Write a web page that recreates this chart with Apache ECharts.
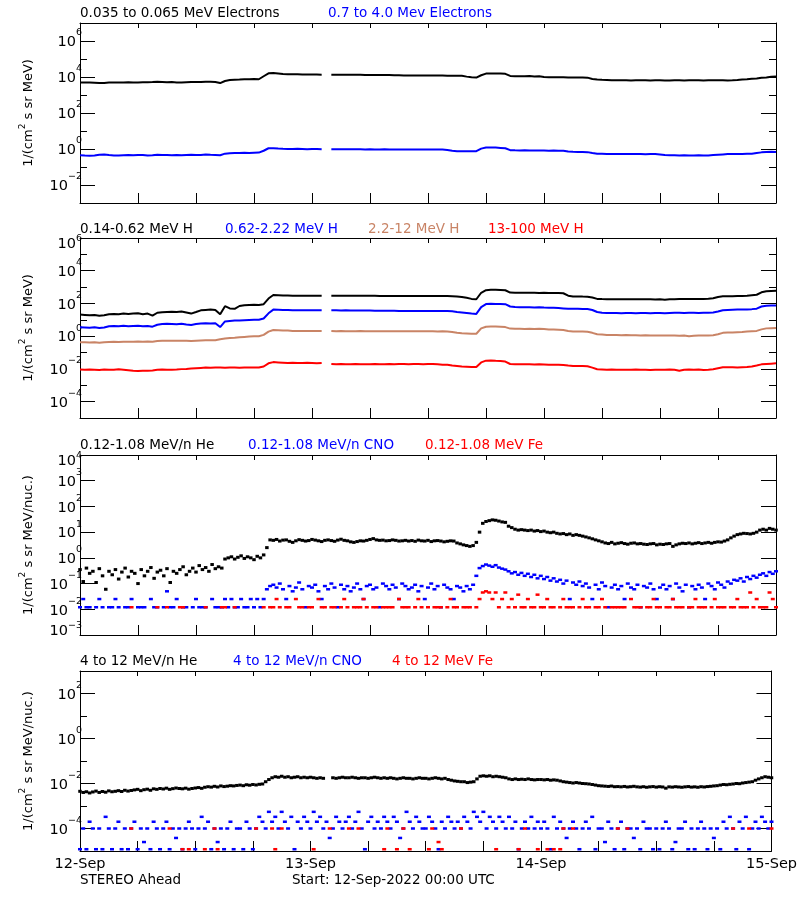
<!DOCTYPE html>
<html><head><meta charset="utf-8">
<script src="https://cdn.jsdelivr.net/npm/echarts@6/dist/echarts.min.js"></script>
<style>html,body{margin:0;padding:0;background:#fff}#c{width:800px;height:900px}</style>
</head><body><div id="c"></div>
<script>
const _ = null;
// time axis: hours after 12-Sep-2022 00:00 UTC
const DAY_LABELS = ['12-Sep', '13-Sep', '14-Sep', '15-Sep'];
const LINE_STEP_H = 0.5;     // line series: one value every 30 min
const DOT_STEP_H = 1 / 3;    // dot series: one value every 20 min

// Panel 1: electrons
const eLo = [5000,4900,5000,4800,4600,4700,4900,5000,5000,5000,
 5100,5000,5000,5100,5100,5200,5400,5300,5100,5200,
 5000,4900,5100,5200,5200,5300,5500,5400,5300,4600,
 6000,6800,7000,7200,7500,7600,7700,7500,11000,16000,
 16500,15500,14500,14000,14000,14000,13800,13800,13600,13600,
 13500,_,13500,13400,13400,13300,13300,13200,13200,13100,
 13000,13000,12900,12800,12800,12600,12500,12300,12200,12200,
 12100,12100,12000,12000,12000,12000,11900,11800,11800,11600,
 10500,9600,9300,12500,15500,15800,15500,15500,15000,11500,
 11000,11000,11000,11200,10800,10900,10000,9800,9700,9600,
 9600,9500,9400,9300,9300,9200,7800,7200,7000,6900,
 6600,6500,6500,6500,6400,6500,6500,6500,6400,6500,
 6500,6400,6300,6500,6500,6400,6500,6500,6500,6400,
 6500,6500,6600,6500,6400,6500,6800,7200,7500,8000,
 8200,9000,9500,10200,10700];
const eHi = [0.45,0.43,0.42,0.44,0.48,0.5,0.46,0.44,0.43,0.45,
 0.46,0.45,0.47,0.46,0.44,0.45,0.48,0.47,0.46,0.45,
 0.46,0.45,0.47,0.48,0.46,0.47,0.5,0.48,0.47,0.45,
 0.55,0.58,0.6,0.6,0.62,0.6,0.62,0.63,0.8,1.1,
 1.1,1.05,1.02,1.0,1.0,1.02,1.0,0.98,1.0,1.0,
 0.98,_,0.98,0.97,0.98,0.96,0.97,0.96,0.96,0.95,
 0.96,0.95,0.95,0.96,0.95,0.95,0.95,0.94,0.95,0.95,
 0.95,0.94,0.95,0.95,0.94,0.93,0.88,0.8,0.76,0.75,
 0.76,0.74,0.76,1.05,1.2,1.22,1.2,1.15,1.1,0.86,
 0.84,0.83,0.84,0.83,0.82,0.83,0.82,0.8,0.82,0.81,
 0.8,0.72,0.7,0.69,0.68,0.67,0.6,0.55,0.54,0.53,
 0.53,0.52,0.53,0.52,0.53,0.52,0.52,0.51,0.53,0.52,
 0.5,0.47,0.45,0.45,0.44,0.45,0.44,0.43,0.45,0.44,
 0.44,0.46,0.48,0.5,0.52,0.53,0.53,0.52,0.54,0.55,
 0.6,0.65,0.68,0.7,0.68];

// Panel 2: protons
const hA = [21,20,19,20,18,19,22,23,22,24,
 23,24,25,22,24,18,27,29,30,31,
 30,32,28,24,30,38,40,42,40,22,
 68,50,47,70,78,80,82,80,90,200,
 330,320,310,305,300,300,300,300,298,298,
 296,_,296,295,295,294,294,293,293,292,
 292,291,290,290,290,290,290,289,289,288,
 288,288,287,287,286,285,285,280,270,250,
 220,190,180,450,650,690,680,660,640,460,
 455,450,450,445,450,440,445,440,435,430,
 420,300,270,265,262,260,230,190,185,183,
 180,181,183,180,178,182,180,183,180,175,
 178,170,180,182,185,188,186,190,185,188,
 195,210,250,275,278,280,285,290,300,320,
 340,480,560,580,600];
const hB = [3.5,3.4,3.3,3.5,3.2,3.4,4.0,4.2,4.0,4.3,
 4.1,4.2,4.3,4.0,4.2,3.8,5.0,5.5,5.8,5.6,
 5.4,5.8,5.2,4.8,5.5,6.0,6.2,6.0,6.2,3.6,
 8.0,8.5,9.0,9.2,9.5,9.8,10,10,12,25,
 42,41,40,40,39,39,39,39,38,38,
 38,_,38,38,37,38,37,37,37,37,
 37,36,36,36,36,36,35,35,35,35,
 35,35,35,35,34,35,34,33,30,28,
 26,24,23,60,92,95,94,93,90,65,
 60,59,58,59,57,58,56,55,54,52,
 50,48,47,47,46,46,40,30,27,26,
 26,26,25,26,26,25,26,26,25,26,
 26,25,26,27,27,26,27,27,26,27,
 27,28,32,38,40,41,42,42,43,45,
 48,65,72,74,75];
const hC = [0.43,0.42,0.41,0.43,0.40,0.42,0.44,0.45,0.44,0.46,
 0.45,0.46,0.47,0.46,0.47,0.45,0.5,0.52,0.53,0.52,
 0.52,0.53,0.52,0.51,0.53,0.55,0.56,0.56,0.57,0.65,
 0.72,0.78,0.8,0.85,0.9,0.95,1.0,1.0,1.2,1.9,
 2.4,2.3,2.2,2.2,2.1,2.1,2.1,2.1,2.1,2.1,
 2.1,_,2.1,2.0,2.1,2.0,2.0,2.0,2.1,2.0,
 2.0,2.0,2.0,2.0,2.0,2.0,2.0,2.0,2.0,2.0,
 2.0,2.0,2.0,2.0,1.95,2.0,1.9,1.8,1.6,1.5,
 1.45,1.4,1.4,3.0,3.8,3.9,3.9,3.8,3.6,2.9,
 2.8,2.8,2.7,2.8,2.7,2.8,2.7,2.6,2.6,2.5,
 2.4,2.1,1.95,1.9,1.9,1.85,1.6,1.3,1.25,1.2,
 1.2,1.2,1.15,1.2,1.15,1.15,1.1,1.15,1.1,1.1,
 1.1,1.1,1.1,1.1,1.05,1.1,1.0,1.05,1.1,1.1,
 1.1,1.15,1.3,1.6,1.7,1.7,1.75,1.8,1.9,2.0,
 2.1,2.6,3.0,3.1,3.2];
const hD = [0.0091,0.0088,0.0093,0.009,0.0087,0.0092,0.009,0.0089,0.0094,0.0088,
 0.0082,0.0076,0.0074,0.0078,0.0076,0.008,0.0088,0.0092,0.0089,0.009,
 0.0093,0.0097,0.01,0.0105,0.011,0.0115,0.012,0.0118,0.0122,0.012,
 0.0118,0.012,0.0122,0.0119,0.0121,0.012,0.0123,0.0121,0.014,0.022,
 0.026,0.025,0.024,0.023,0.024,0.023,0.023,0.024,0.023,0.022,
 0.023,_,0.02,0.019,0.02,0.019,0.019,0.02,0.019,0.019,
 0.019,0.02,0.019,0.019,0.02,0.019,0.02,0.02,0.019,0.02,
 0.02,0.019,0.02,0.02,0.019,0.018,0.018,0.016,0.015,0.014,
 0.0135,0.013,0.0132,0.025,0.032,0.033,0.031,0.03,0.028,0.02,
 0.019,0.0195,0.019,0.019,0.0188,0.019,0.0185,0.018,0.0182,0.018,
 0.0175,0.016,0.015,0.0152,0.015,0.0145,0.012,0.0095,0.0093,0.009,
 0.0091,0.0089,0.009,0.0088,0.009,0.0091,0.0089,0.009,0.0087,0.009,
 0.009,0.0088,0.0092,0.0089,0.0078,0.009,0.0091,0.0089,0.0092,0.0086,
 0.009,0.0095,0.011,0.0125,0.0126,0.0128,0.0124,0.0127,0.013,0.014,
 0.016,0.019,0.02,0.021,0.022];

// Panel 3: 0.12-1.08 MeV/n ions (20-min values)
const heLo = [0.35,0.12,0.4,0.25,0.3,0.11,0.38,0.2,0.06,0.3,0.22,0.35,
 0.15,0.28,0.4,0.18,0.3,0.25,0.1,0.35,0.2,0.3,0.42,0.16,
 0.28,0.33,0.2,0.38,0.11,0.3,0.25,0.35,0.45,0.22,0.3,0.4,
 0.28,0.5,0.35,0.42,0.3,0.55,0.38,0.45,0.4,0.9,1.0,1.1,
 0.9,1.05,1.2,0.95,1.1,1.0,0.85,1.15,1.0,1.3,2.5,5.0,
 4.8,5.2,4.5,4.9,5.0,4.4,4.0,4.6,5.1,4.8,4.5,4.7,
 5.2,4.9,4.6,4.3,4.8,5.0,4.7,4.4,4.9,5.3,4.8,4.6,
 4.2,4.0,4.3,4.6,4.5,4.8,5.2,5.6,5.0,4.8,4.9,4.6,
 4.7,5.0,4.8,4.5,4.6,4.8,4.5,4.7,4.4,4.9,4.6,4.5,
 4.8,4.3,4.6,4.7,4.5,4.2,4.4,4.6,4.5,3.8,3.5,3.2,
 3.0,2.8,3.0,4.0,10,22,26,28,30,29,27,25,
 24,17,15,13,12,12.5,12,11.5,12,11,11.5,10.5,
 11,10,9.5,10,9,8.5,8.8,8,8.5,7.5,8,7.5,
 7,6.5,6,5.5,5,4.6,4.2,3.8,3.6,4.0,3.5,3.7,
 3.9,3.6,3.4,3.7,3.8,3.5,3.6,3.4,3.3,3.5,3.6,3.2,
 3.4,3.3,3.5,3.6,2.8,3.2,3.5,3.7,3.6,3.8,3.5,3.7,
 3.9,3.6,3.8,4.0,3.7,4.0,4.2,4.1,4.5,5.0,6.0,7.0,
 8.0,8.5,9,8.8,8.5,9,10,12,13,12,14,13,
 12];
const cnoLo = [0.012,0.025,0.012,0.012,_,0.012,0.025,0.012,_,0.012,0.012,0.025,
 0.012,_,0.012,0.012,0.025,_,0.012,0.012,0.012,_,0.025,0.012,
 0.012,_,0.012,0.05,0.012,0.012,0.025,_,0.012,0.012,_,0.012,
 0.025,0.012,0.012,0.012,_,0.025,0.012,0.012,0.012,0.025,0.012,0.025,
 0.012,0.012,0.025,0.012,0.012,0.025,0.012,0.025,0.012,0.025,0.06,0.08,
 0.09,0.07,0.1,0.06,0.025,0.08,0.05,0.07,0.11,0.06,0.012,0.08,
 0.07,0.09,0.05,0.025,0.08,0.06,0.1,0.07,0.012,0.09,0.06,0.08,
 0.05,0.07,0.1,0.06,0.025,0.08,0.09,0.06,0.07,0.012,0.1,0.08,
 0.06,0.09,0.07,0.025,0.1,0.08,0.06,0.07,0.09,0.05,0.08,0.025,
 0.07,0.1,0.06,0.08,0.012,0.09,0.07,0.06,0.025,0.08,0.07,0.05,
 0.08,0.06,0.09,0.2,0.4,0.48,0.55,0.5,0.45,0.52,0.42,0.38,
 0.35,0.3,0.25,0.28,0.22,0.26,0.2,0.24,0.18,0.22,0.16,0.2,
 0.15,0.18,0.13,0.16,0.12,0.14,0.1,0.13,0.025,0.11,0.09,0.12,
 0.08,0.1,0.07,0.025,0.09,0.06,0.11,0.08,0.012,0.07,0.09,0.06,
 0.08,0.025,0.1,0.07,0.06,0.09,0.012,0.08,0.07,0.1,0.06,0.025,
 0.07,0.09,0.06,0.08,0.025,0.1,0.07,0.05,0.09,0.012,0.08,0.06,
 0.09,0.07,0.025,0.1,0.08,0.06,0.11,0.09,0.07,0.12,0.1,0.14,
 0.13,0.16,0.12,0.18,0.15,0.2,0.17,0.22,0.25,0.2,0.28,0.24,
 0.3];
const feLo = [_,_,_,_,_,_,_,_,_,_,_,_,
 _,_,_,_,0.012,_,_,_,_,_,_,_,
 0.012,_,_,0.012,_,_,_,0.012,0.012,_,_,_,
 _,_,_,0.012,_,_,_,_,0.012,0.012,_,_,
 0.012,_,_,_,_,_,_,_,_,0.012,_,0.012,
 0.012,0.025,0.012,_,0.012,0.012,_,0.025,0.012,0.012,_,0.012,
 0.012,_,0.025,0.012,0.012,_,0.012,0.012,_,0.012,0.025,0.012,
 _,0.012,0.012,0.012,0.025,0.012,_,0.012,0.012,_,0.012,0.012,
 0.012,0.012,_,0.025,0.012,0.012,0.012,_,0.012,0.025,0.012,_,
 0.012,_,0.012,0.012,0.012,_,0.012,0.025,0.012,0.012,_,0.012,
 0.012,0.012,_,0.012,0.025,0.045,0.05,0.045,0.025,0.045,0.012,0.025,
 0.045,0.012,0.025,0.012,0.037,0.012,0.012,0.025,0.012,0.012,0.037,0.012,
 0.012,0.025,0.012,0.012,_,0.012,0.025,0.012,0.012,0.012,_,0.012,
 0.025,0.012,0.012,_,0.012,0.012,0.025,0.012,_,0.012,0.012,0.012,
 0.012,0.012,_,0.025,0.012,0.012,0.012,_,0.012,0.012,0.025,0.012,
 0.012,_,0.012,0.012,0.025,0.012,0.012,0.012,_,0.012,0.012,0.025,
 0.012,0.012,0.012,_,0.012,0.025,0.012,0.012,0.012,_,0.012,0.012,
 0.025,0.012,0.012,0.012,0.045,0.012,0.025,0.012,0.012,0.012,0.045,0.025,
 0.012];

// Panel 4: 4-12 MeV/n ions (20-min values)
const heHi = [0.0045,0.004,0.0043,0.0038,0.0042,0.0046,0.004,0.0044,0.0041,0.0047,0.0043,0.0045,
 0.0048,0.0044,0.005,0.0046,0.0049,0.0052,0.0055,0.0048,0.0053,0.0056,0.005,0.0058,
 0.0055,0.006,0.0057,0.0062,0.0055,0.0059,0.0063,0.006,0.0058,0.0062,0.0056,0.006,
 0.0063,0.0066,0.0061,0.0068,0.0072,0.0069,0.0075,0.007,0.0078,0.0073,0.0076,0.008,
 0.0078,0.0082,0.0085,0.008,0.0088,0.0084,0.009,0.0086,0.0092,0.0095,0.012,0.015,
 0.018,0.02,0.019,0.021,0.019,0.02,0.018,0.019,0.02,0.018,0.019,0.018,
 0.019,0.018,0.017,0.018,0.017,_,_,0.018,0.017,0.018,0.019,0.018,
 0.018,0.019,0.018,0.017,0.018,0.018,0.017,0.018,0.019,0.018,0.017,0.018,
 0.017,0.018,0.017,0.016,0.017,0.018,0.017,0.017,0.016,0.017,0.018,0.017,
 0.017,0.016,0.017,0.018,0.017,0.016,0.017,0.015,0.014,0.013,0.0125,0.012,
 0.012,0.011,0.0115,0.012,0.016,0.021,0.022,0.021,0.022,0.02,0.021,0.02,
 0.019,0.018,0.016,0.015,0.016,0.015,0.0155,0.015,0.016,0.015,0.0145,0.015,
 0.015,0.0145,0.015,0.014,0.0145,0.014,0.013,0.012,0.0115,0.011,0.0105,0.011,
 0.0105,0.01,0.0098,0.0095,0.009,0.0085,0.008,0.0078,0.0076,0.0074,0.0077,0.0072,
 0.0073,0.0071,0.0074,0.007,0.0072,0.0075,0.0071,0.0069,0.0072,0.0068,0.0071,0.0073,
 0.0069,0.0072,0.007,0.0062,0.0071,0.0069,0.0072,0.007,0.0068,0.0071,0.0073,0.0069,
 0.0071,0.0068,0.0072,0.007,0.0073,0.0075,0.0078,0.008,0.0085,0.009,0.0088,0.0092,
 0.0095,0.01,0.0098,0.0105,0.011,0.0115,0.012,0.014,0.016,0.018,0.02,0.019,
 0.018];
const cnoHi = [1.2e-5,1e-4,1.2e-5,2e-4,1e-4,1.2e-5,1e-4,1.2e-5,3.3e-4,1e-4,1.2e-5,1e-4,
 2e-4,1.2e-5,1e-4,1.2e-5,1e-4,2e-4,1.2e-5,1e-4,2.5e-5,1e-4,1.2e-5,2e-4,
 1e-4,1.2e-5,1e-4,2e-4,1.2e-5,1e-4,3.8e-5,1e-4,1.2e-5,1e-4,2e-4,1e-4,
 1.2e-5,1e-4,3.3e-4,1e-4,2e-4,1.2e-5,1e-4,2.5e-5,1e-4,1.2e-5,1e-4,2e-4,
 1.2e-5,1e-4,1e-4,1.2e-5,2e-4,1e-4,1.2e-5,1e-4,3.3e-4,2e-4,1e-4,5.5e-4,
 2e-4,3.3e-4,1e-4,5.5e-4,2e-4,1e-4,3.3e-4,1.2e-5,2e-4,1e-4,3.3e-4,2e-4,
 1e-4,5.5e-4,2e-4,3.3e-4,1e-4,2e-4,3.8e-5,1e-4,3.3e-4,2e-4,1e-4,2e-4,
 3.3e-4,1e-4,2e-4,5.5e-4,1e-4,1.2e-5,2e-4,3.3e-4,1e-4,2e-4,1e-4,3.3e-4,
 2e-4,1e-4,3.3e-4,2e-4,3.8e-5,1e-4,5.5e-4,2e-4,1e-4,3.3e-4,2e-4,1e-4,
 1e-4,3.3e-4,2e-4,1e-4,1.2e-5,2e-4,1e-4,3.3e-4,2e-4,1e-4,2e-4,1e-4,
 3.3e-4,2e-4,1e-4,5.5e-4,3.3e-4,2e-4,5.5e-4,1e-4,3.3e-4,2e-4,1e-4,3.3e-4,
 2e-4,1e-4,3.3e-4,1e-4,2e-4,1.2e-5,1e-4,2e-4,1e-4,3.3e-4,1e-4,2e-4,
 1e-4,2e-4,1e-4,1.2e-5,3.3e-4,1e-4,2e-4,1e-4,3.8e-5,1e-4,2e-4,1e-4,
 1.2e-5,1e-4,2e-4,1e-4,3.3e-4,1.2e-5,1e-4,1e-4,2.5e-5,2e-4,1e-4,1.2e-5,
 1e-4,2e-4,1.2e-5,1e-4,1e-4,3.8e-5,1e-4,1.2e-5,2e-4,1e-4,1e-4,1.2e-5,
 1e-4,1.2e-5,1e-4,2e-4,1e-4,1.2e-5,2.5e-5,1e-4,1e-4,2e-4,1.2e-5,1e-4,
 1.2e-5,1e-4,2e-4,1e-4,1.2e-5,1e-4,3.8e-5,1e-4,1.2e-5,2e-4,1e-4,3.3e-4,
 1e-4,1.2e-5,2e-4,1e-4,3.3e-4,1.2e-5,1e-4,2e-4,1e-4,3.3e-4,2e-4,1e-4,
 2e-4];
const feHiHours = [5.33,9.33,10.67,11.33,13,14,14.33,18.33,20,20.33,21,24.33,26,28,29,31.67,32,33,33.67,34.33,
 36.33,36.67,37.33,37.67,39.67,43.33,45.67,46.33,47.67,48.67,49.33,50,50.33,51.33,56,57,68,69.67,72];
const feHiValues = [1e-4,1e-4,1.2e-5,1.2e-5,1.2e-5,1e-4,1.2e-5,1e-4,1e-4,1.2e-5,1e-4,1.2e-5,1e-4,1e-4,1e-4,1.2e-5,1e-4,1.2e-5,1e-4,1.2e-5,
 1.2e-5,1e-4,2.5e-5,1.2e-5,1e-4,1.2e-5,1.2e-5,1e-4,1.2e-5,1.2e-5,1.2e-5,1.2e-5,1e-4,1e-4,1e-4,1e-4,1e-4,1e-4,1e-4];

// ---------------------------------------------------------------
const FONT = 'DejaVu Sans';
const BLACK = '#000000', BLUE = '#0000ff', RED = '#ff0000', BROWN = '#c98466';
const PLOT_H = 180;

function lineData(arr, step) { return arr.map((v, i) => [i * step, v == null ? '-' : v]); }
function dotData(arr, step) { const o = []; arr.forEach((v, i) => { if (v != null) o.push([i * step, v]); }); return o; }
function pairData(hours, vals) { return hours.map((h, i) => [h, vals[i]]); }

const PANELS = [
  { top: 23, min: 1e-3, max: 1e7, major: [1e-2, 1, 1e2, 1e4, 1e6], minor: [1e-1, 1e1, 1e3, 1e5], unit: 'MeV', titleTop: 5,
    titles: [['0.035 to 0.065 MeV Electrons', BLACK, 80], ['0.7 to 4.0 Mev Electrons', BLUE, 328]],
    series: [['line', lineData(eLo, LINE_STEP_H), BLACK], ['line', lineData(eHi, LINE_STEP_H), BLUE]] },
  { top: 238, min: 1e-5, max: 1e6, major: [1e-4, 1e-2, 1, 1e2, 1e4, 1e6], minor: [1e-3, 1e-1, 1e1, 1e3, 1e5], unit: 'MeV', titleTop: 221,
    titles: [['0.14-0.62 MeV H', BLACK, 80], ['0.62-2.22 MeV H', BLUE, 225], ['2.2-12 MeV H', BROWN, 368], ['13-100 MeV H', RED, 488]],
    series: [['line', lineData(hA, LINE_STEP_H), BLACK], ['line', lineData(hB, LINE_STEP_H), BLUE],
             ['line', lineData(hC, LINE_STEP_H), BROWN], ['line', lineData(hD, LINE_STEP_H), RED]] },
  { top: 455, min: 1e-3, max: 1e4, major: [1e-3, 1e-2, 1e-1, 1, 1e1, 1e2, 1e3, 1e4], minor: [], unit: 'MeV/nuc.', titleTop: 437,
    titles: [['0.12-1.08 MeV/n He', BLACK, 80], ['0.12-1.08 MeV/n CNO', BLUE, 248], ['0.12-1.08 MeV Fe', RED, 425]],
    series: [['dot', dotData(heLo, DOT_STEP_H), BLACK], ['dot', dotData(cnoLo, DOT_STEP_H), BLUE], ['dot', dotData(feLo, DOT_STEP_H), RED]] },
  { top: 671, min: 1e-5, max: 1e3, major: [1e-4, 1e-2, 1, 1e2], minor: [1e-3, 1e-1, 1e1], unit: 'MeV/nuc.', titleTop: 653.5,
    titles: [['4 to 12 MeV/n He', BLACK, 80], ['4 to 12 MeV/n CNO', BLUE, 233], ['4 to 12 MeV Fe', RED, 392]],
    series: [['dot', dotData(heHi, DOT_STEP_H), BLACK], ['dot', dotData(cnoHi, DOT_STEP_H), BLUE], ['dot', pairData(feHiHours, feHiValues), RED]] }
];

const exp10 = v => Math.round(Math.log10(v));
// "10" and its exponent are drawn as two label rows; labels on the frame corners sit just inside the frame
function labelSpecs(p) {
  const eMin = exp10(p.min), eMax = exp10(p.max);
  const decPx = PLOT_H / (eMax - eMin);
  return p.major.map(v => {
    const e = exp10(v);
    let base = e - 1.5 / decPx, gap = 9.5;
    if (e === eMax) base = e - 6.5 / decPx;
    else if (e === eMin) { base = e + 4 / decPx; gap = 5; }
    const sup = Math.min(base + gap / decPx, eMax - 0.02);
    return { base: Math.pow(10, base), sup: Math.pow(10, sup), txt: (e < 0 ? '\u2212' : '') + Math.abs(e) };
  });
}
function nearest(list, key, v) {
  let best = list[0], d = Infinity;
  list.forEach(s => { const dd = Math.abs(Math.log10(s[key]) - Math.log10(v)); if (dd < d) { d = dd; best = s; } });
  return best;
}

const grid = [], xAxis = [], yAxis = [], series = [], title = [];
PANELS.forEach((p, k) => {
  grid.push({ left: 80, width: 696, top: p.top, height: PLOT_H });
  const xb = xAxis.length;
  [['bottom', 10], ['top', 5]].forEach(([pos, len]) => {
    const showLab = (k === 3 && pos === 'bottom');
    xAxis.push({
      type: 'value', gridIndex: k, position: pos, min: 0, max: 72, interval: 6,
      axisLine: { show: true, onZero: false, lineStyle: { color: BLACK, width: 1 } },
      axisTick: { show: true, inside: true, length: len, lineStyle: { color: BLACK, width: 1 } },
      axisLabel: showLab ? {
        show: true, margin: 6, fontFamily: FONT, fontSize: 14.5, color: BLACK,
        showMinLabel: true, showMaxLabel: true,
        formatter: v => (v % 24 === 0 ? DAY_LABELS[v / 24] : '')
      } : { show: false },
      splitLine: { show: false }
    });
  });
  const specs = labelSpecs(p);
  // main log axis: carries the data, the left frame line, the "10" labels and the name
  const yb = yAxis.length;
  yAxis.push({
    type: 'log', logBase: 10, gridIndex: k, position: 'left', min: p.min, max: p.max,
    axisLine: { show: true, onZero: false, lineStyle: { color: BLACK, width: 1 } },
    axisTick: { show: false },
    axisLabel: {
      show: true, customValues: specs.map(s => s.base), margin: -2,
      formatter: v => '{' + (nearest(specs, 'base', v).txt.length > 1 ? 'bw' : 'bn') + '|10}',
      rich: {
        bn: { fontFamily: FONT, fontSize: 14.5, padding: [0, 6, 0, 0], color: BLACK },
        bw: { fontFamily: FONT, fontSize: 14.5, padding: [0, 14, 0, 0], color: BLACK }
      }
    },
    splitLine: { show: false }, minorTick: { show: false }, minorSplitLine: { show: false },
    name: '1/(cm{s|2} s sr ' + p.unit + ')',
    nameLocation: 'middle', nameGap: 35,
    nameTextStyle: {
      fontFamily: FONT, fontSize: 13, color: BLACK, lineHeight: 20,
      rich: { s: { fontFamily: FONT, fontSize: 9, verticalAlign: 'top', color: BLACK } }
    }
  });
  // exponent labels
  yAxis.push({
    type: 'log', logBase: 10, gridIndex: k, position: 'left', min: p.min, max: p.max,
    axisLine: { show: false, onZero: false }, axisTick: { show: false },
    axisLabel: {
      show: true, customValues: specs.map(s => s.sup), margin: -2,
      fontFamily: FONT, fontSize: 9.5, color: BLACK,
      formatter: v => nearest(specs, 'sup', v).txt
    },
    splitLine: { show: false }, minorTick: { show: false }, minorSplitLine: { show: false }
  });
  // decade tick axes (one category per decade, same span as the log axis)
  const decades = [];
  for (let e = exp10(p.min); e <= exp10(p.max); e++) decades.push(String(e));
  const tickAxis = (pos, ticks, len, line) => {
    const want = ticks.map(exp10);
    return {
      type: 'category', gridIndex: k, position: pos, data: decades, boundaryGap: false,
      axisLine: { show: line, onZero: false, lineStyle: { color: BLACK, width: 1 } },
      axisTick: { show: true, inside: true, length: len, interval: (i, v) => want.includes(+v),
                  lineStyle: { color: BLACK, width: 1 } },
      axisLabel: { show: false }, splitLine: { show: false }, axisPointer: { show: false }
    };
  };
  yAxis.push(tickAxis('left', p.major, 15, false));
  yAxis.push(tickAxis('right', p.major, 15, true));
  if (p.minor.length) {
    yAxis.push(tickAxis('left', p.minor, 7, false));
    yAxis.push(tickAxis('right', p.minor, 7, false));
  }
  p.titles.forEach(([text, color, x]) => title.push({
    text, left: x, top: p.titleTop, padding: 0,
    textStyle: { fontFamily: FONT, fontSize: 13.5, fontWeight: 'normal', color, lineHeight: 16 }
  }));
  p.series.forEach(([kind, data, color]) => {
    if (kind === 'line') {
      series.push({ type: 'line', xAxisIndex: xb, yAxisIndex: yb, data, showSymbol: false, symbol: 'none',
        connectNulls: false, lineStyle: { color, width: 2 }, itemStyle: { color }, silent: true, clip: true });
    } else {
      const sz = color === BLACK ? [3.5, 3] : [4, 2.5];
      series.push({ type: 'scatter', xAxisIndex: xb, yAxisIndex: yb, data, symbol: 'rect', symbolSize: sz,
        itemStyle: { color, opacity: 1 }, silent: true, clip: true });
    }
  });
});
title.push({ text: 'STEREO Ahead', left: 80, top: 872, padding: 0,
  textStyle: { fontFamily: FONT, fontSize: 13.5, fontWeight: 'normal', color: BLACK, lineHeight: 16 } });
title.push({ text: 'Start: 12-Sep-2022 00:00 UTC', left: 292, top: 872, padding: 0,
  textStyle: { fontFamily: FONT, fontSize: 13.5, fontWeight: 'normal', color: BLACK, lineHeight: 16 } });

const chart = echarts.init(document.getElementById('c'), null, { renderer: 'canvas' });
chart.setOption({ backgroundColor: '#ffffff', animation: false, title, grid, xAxis, yAxis, series });
</script></body></html>
